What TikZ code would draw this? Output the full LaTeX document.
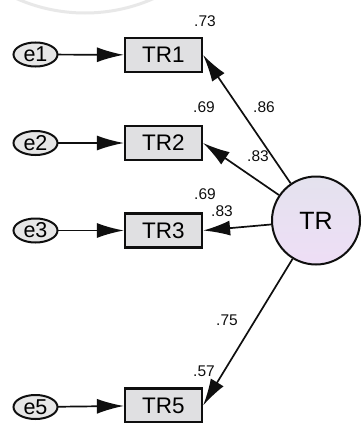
\documentclass[tikz,border=0pt]{standalone}
\usepackage{fontspec}
\setmainfont{Liberation Sans}
\usetikzlibrary{arrows.meta}
\definecolor{boxfill}{RGB}{224,224,226}
\definecolor{errfill}{RGB}{230,230,230}
\definecolor{lattop}{RGB}{228,226,238}
\definecolor{latbot}{RGB}{238,222,246}
\definecolor{inkc}{RGB}{15,15,15}
\tikzset{
  x=1pt, y=1pt,
  errshape/.style={draw=inkc, line width=2pt, fill=errfill},
  errnode/.style={rectangle, minimum width=45pt, minimum height=25pt,
    inner sep=0pt, outer sep=0pt, font=\fontsize{21.5}{21.5}\selectfont},
  obsnode/.style={rectangle, draw=inkc, line width=2.2pt, fill=boxfill,
    minimum width=77pt, minimum height=34pt, inner sep=0pt,
    font=\fontsize{22.5}{22.5}\selectfont},
  latnode/.style={circle, draw=inkc, line width=2pt,
    top color=lattop, bottom color=latbot,
    minimum size=88pt, inner sep=0pt,
    font=\fontsize{25}{25}\selectfont},
  path/.style={draw=inkc, line width=1.7pt,
    -{Latex[length=27pt,width=15pt]}},
  coef/.style={font=\fontsize{15.5}{15.5}\selectfont, text=inkc, inner sep=0pt}
}
\begin{document}
\begin{tikzpicture}
\useasboundingbox (0,0) rectangle (363,-423);
\fill[white] (0,0) rectangle (363,-423);
% faint ring at the top edge
\begin{scope}
\clip (0,0) rectangle (363,-423);
\draw[gray!18, line width=3pt] (85,156) circle (169);
\end{scope}

% error terms: ellipse outline, then a named node carrying the label
\foreach \n/\y in {e1/-54.5, e2/-143, e3/-230.5, e5/-407} {
  \filldraw[errshape] (35.5,\y) ellipse [x radius=22, y radius=12];
  \node[errnode] (\n) at (35.5,\y) {\n};
}

% indicators
\node[obsnode] (TR1) at (163.5,-55) {TR1};
\node[obsnode] (TR2) at (163.5,-143) {TR2};
\node[obsnode] (TR3) at (163.5,-230.5) {TR3};
\node[obsnode] (TR5) at (163.5,-405.5) {TR5};

% latent factor
\node[latnode] (TR) at (316,-220.5) {TR};

% error paths
\draw[path] (e1) -- (TR1);
\draw[path] (e2) -- (TR2);
\draw[path] (e3) -- (TR3);
\draw[path] (e5) -- (TR5);

% loadings
\draw[path] (TR) -- (TR1.east);
\draw[path] (TR) -- (TR2.east);
\draw[path] (TR) -- (TR3.east);
\draw[path] (TR) -- (TR5.east);

% squared multiple correlations
\node[coef] (r1) at (205,-21) {.73};
\node[coef] (r2) at (204,-107) {.69};
\node[coef] (r3) at (205,-194) {.69};
\node[coef] (r5) at (204,-371) {.57};

% standardized loadings
\node[coef] (l1) at (264,-107) {.86};
\node[coef] (l2) at (258,-156) {.83};
\node[coef] (l3) at (222,-211) {.83};
\node[coef] (l5) at (227,-320) {.75};
\end{tikzpicture}
\end{document}
